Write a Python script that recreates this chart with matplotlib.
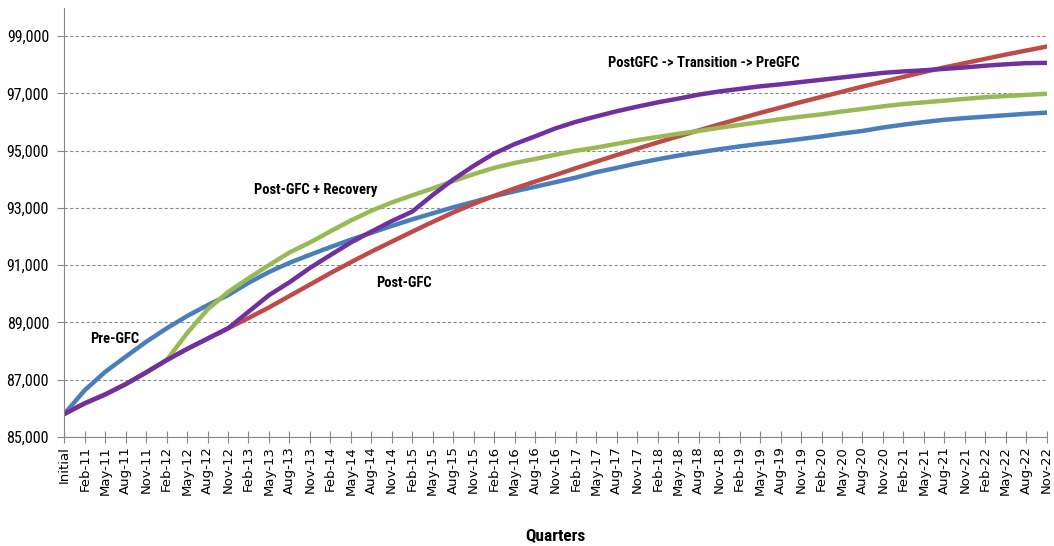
import matplotlib.pyplot as plt
from matplotlib import font_manager
from matplotlib.ticker import FuncFormatter

# narrow font for the series labels if one is installed, else Arial-like
installed = {f.name for f in font_manager.fontManager.ttflist}
label_font = 'Liberation Sans'
for name in ['Liberation Sans Narrow', 'Roboto Condensed', 'Open Sans Condensed', 'Arial Narrow']:
    if name in installed:
        label_font = name
        break
plt.rcParams['font.family'] = ['Liberation Sans', 'DejaVu Sans']

# quarter labels
quarters = ['Initial']
for yr in range(11, 23):
    for m in ['Feb', 'May', 'Aug', 'Nov']:
        quarters.append(f'{m}-{yr}')

pre_gfc = [85800, 86630, 87270, 87800, 88320, 88790, 89220, 89600, 89950, 90380,
           90760, 91080, 91360, 91630, 91890, 92130, 92370, 92600, 92810, 93020,
           93210, 93410, 93580, 93740, 93900, 94060, 94250, 94400, 94560, 94700,
           94830, 94940, 95050, 95150, 95240, 95320, 95410, 95500, 95600, 95690,
           95810, 95910, 96000, 96080, 96140, 96190, 96240, 96290, 96330]

post_gfc = [85800, 86170, 86480, 86840, 87250, 87680, 88070, 88430, 88790, 89150,
            89520, 89920, 90320, 90720, 91100, 91470, 91820, 92170, 92510, 92840,
            93140, 93420, 93680, 93920, 94150, 94390, 94620, 94850, 95070, 95290,
            95500, 95710, 95920, 96120, 96320, 96510, 96700, 96880, 97060, 97240,
            97410, 97580, 97750, 97910, 98060, 98210, 98360, 98500, 98640]

recovery = [85800, 86170, 86480, 86840, 87250, 87680, 88620, 89450, 90060, 90540,
            91000, 91440, 91790, 92180, 92560, 92900, 93190, 93440, 93680, 93940,
            94180, 94400, 94570, 94710, 94860, 95000, 95110, 95240, 95370, 95480,
            95590, 95690, 95800, 95900, 96000, 96100, 96190, 96270, 96370, 96460,
            96550, 96630, 96690, 96750, 96810, 96870, 96910, 96950, 96990]

transition = [85800, 86170, 86480, 86840, 87250, 87680, 88070, 88430, 88790, 89370,
              89950, 90400, 90900, 91350, 91790, 92170, 92540, 92870, 93450, 93990,
              94470, 94900, 95230, 95500, 95780, 96010, 96200, 96380, 96540, 96690,
              96820, 96960, 97070, 97160, 97250, 97320, 97400, 97480, 97560, 97640,
              97720, 97770, 97810, 97860, 97910, 97970, 98020, 98060, 98070]

fig = plt.figure(figsize=(10.54, 5.46), dpi=100)
ax = fig.add_axes([0.061, 0.2, 0.932, 0.786])

x = list(range(len(quarters)))
ax.plot(x, pre_gfc, color='#4A7EBB', lw=3.2, solid_capstyle='round')
ax.plot(x, post_gfc, color='#BE4B48', lw=3.2, solid_capstyle='round')
ax.plot(x, recovery, color='#98B954', lw=3.2, solid_capstyle='round')
ax.plot(x, transition, color='#7030A0', lw=3.2, solid_capstyle='round')

ax.set_xlim(0, len(quarters) - 1)
ax.set_ylim(85000, 100000)
ax.set_yticks(range(85000, 100000, 2000))
ax.yaxis.set_major_formatter(FuncFormatter(lambda v, p: f'{int(v):,}'))
for t in ax.get_yticklabels():
    t.set_family(label_font)
ax.set_xticks(x)
ax.set_xticklabels(quarters, rotation=90, fontsize=9.5, family=['DejaVu Sans'])
ax.tick_params(axis='x', direction='inout', length=9, color='#868686', pad=2)
ax.tick_params(axis='y', direction='out', length=5, color='#868686', labelsize=11.5, pad=6)

ax.grid(axis='y', color='#8C8C8C', linestyle=(0, (3, 2)), linewidth=0.8)
for s in ['top', 'right']:
    ax.spines[s].set_visible(False)
for s in ['left', 'bottom']:
    ax.spines[s].set_color('#868686')

ax.set_xlabel('Quarters', fontsize=12.5, fontweight='bold', family=label_font)
ax.xaxis.set_label_coords(0.5, -0.215)

# series labels
lab = dict(fontsize=10.5, fontweight='bold', family=label_font, ha='center', va='center')
ax.text(2.47, 88420, 'Pre-GFC', **lab)
ax.text(12.3, 93630, 'Post-GFC + Recovery', **lab)
ax.text(16.58, 90370, 'Post-GFC', **lab)
ax.text(31.27, 98070, 'PostGFC -> Transition -> PreGFC', **lab)

fig.savefig('out.png', dpi=100)
